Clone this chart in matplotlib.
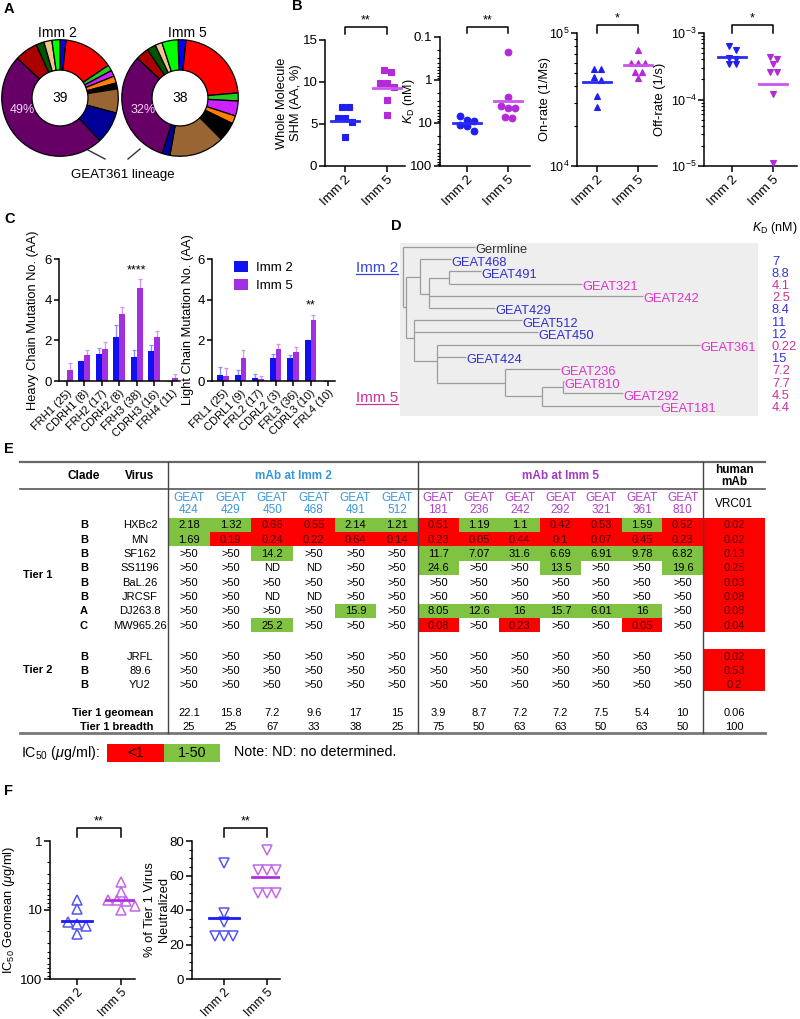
import numpy as np
import matplotlib
matplotlib.use('Agg')
import matplotlib.pyplot as plt
from matplotlib.patches import Rectangle
import matplotlib.transforms as mtrans
from matplotlib.ticker import LogLocator, NullFormatter, FixedLocator, FixedFormatter, MultipleLocator

plt.rcParams['font.family'] = ['Liberation Sans', 'DejaVu Sans']
plt.rcParams['mathtext.fontset'] = 'custom'
plt.rcParams['mathtext.rm'] = 'Liberation Sans'
plt.rcParams['mathtext.it'] = 'Liberation Sans:italic'
plt.rcParams['mathtext.bf'] = 'Liberation Sans:bold'
plt.rcParams['axes.linewidth'] = 1.1

# ------------------------------------------------------------------ data
# Panel A : lineage composition (clockwise from 12 o'clock, degrees of ring)
donut_colors = ['#0000ff', '#ff0000', '#22cc22', '#cc22ff', '#ff8000', '#000000',
                '#996633', '#000099', '#660066', '#aa0000', '#005500', '#f2c38c', '#00ff00']
imm2_share = [6, 50, 6, 6, 7, 6, 24, 32, 176, 23, 8, 8, 8]
imm5_share = [8, 79, 8, 15, 8, 19, 55, 8, 115, 13, 9, 7, 16]
imm2_total, imm5_total = '39', '38'
imm2_lineage_pct, imm5_lineage_pct = '49%', '32%'

# Panel B
groups = ['Imm 2', 'Imm 5']
shm_imm2 = [7.05, 7.05, 5.66, 5.66, 5.26, 3.47]
shm_imm5 = [11.43, 11.24, 9.92, 9.92, 9.37, 7.85, 6.05]
shm_center = [5.34, 9.3]
imm2_mabs = ['424', '429', '450', '468', '491', '512']
imm5_mabs = ['181', '236', '242', '292', '321', '361', '810']
kd_imm2 = [15, 8.4, 12, 7, 8.8, 11]
kd_imm5 = [4.4, 7.2, 2.5, 4.5, 4.1, 0.22, 7.7]
on_imm2 = [54000, 54000, 46500, 44400, 33800, 27600]
on_imm5 = [74000, 60000, 60000, 60000, 51300, 51300, 45700]
on_center = [42800, 57000]
off_imm2 = [6.3e-4, 5.6e-4, 4.2e-4, 4.1e-4, 3.4e-4, 3.4e-4]
off_imm5 = [4.3e-4, 4.1e-4, 3.45e-4, 2.6e-4, 2.55e-4, 1.2e-4, 1.1e-5]
off_center = [4.3e-4, 1.7e-4]
sig_B = ['**', '**', '*', '*']

# Panel C
heavy_regions = ['FRH1 (25)', 'CDRH1 (8)', 'FRH2 (17)', 'CDRH2 (8)', 'FRH3 (38)', 'CDRH3 (16)', 'FRH4 (11)']
heavy_imm2 = [0.0, 1.0, 1.33, 2.17, 1.17, 1.5, 0.0]
heavy_imm2_err = [0.0, 0.0, 0.27, 0.6, 0.35, 0.28, 0.0]
heavy_imm5 = [0.55, 1.27, 1.57, 3.28, 4.57, 2.14, 0.14]
heavy_imm5_err = [0.33, 0.25, 0.33, 0.38, 0.43, 0.3, 0.2]
heavy_sig = ['', '', '', '', '****', '', '']
light_regions = ['FRL1 (25)', 'CDRL1 (9)', 'FRL2 (17)', 'CDRL2 (3)', 'FRL3 (36)', 'CDRL3 (10)', 'FRL4 (10)']
light_imm2 = [0.3, 0.3, 0.15, 1.15, 1.15, 2.0, 0.0]
light_imm2_err = [0.4, 0.24, 0.2, 0.2, 0.15, 0.0, 0.0]
light_imm5 = [0.25, 1.13, 0.12, 1.57, 1.42, 3.0, 0.0]
light_imm5_err = [0.37, 0.4, 0.15, 0.23, 0.27, 0.25, 0.0]
light_sig = ['', '', '', '', '', '**', '']

# Panel D : tree (parent, child, branch length)
tree_edges = [
    ('root', 'Germline', 71.7), ('root', 'n1', 2.7),
    ('n1', 'n2', 14.0), ('n1', 'n3', 8.3),
    ('n2', 'GEAT468', 31.6), ('n2', 'n4', 9.0),
    ('n4', 'n5', 20.0), ('n4', 'GEAT242', 214.3), ('n4', 'GEAT429', 66.0),
    ('n5', 'GEAT491', 32.6), ('n5', 'GEAT321', 133.3),
    ('n3', 'GEAT512', 108.3), ('n3', 'GEAT450', 124.0), ('n3', 'n6', 23.3),
    ('n6', 'GEAT361', 262.4), ('n6', 'GEAT424', 29.0), ('n6', 'n7', 67.4),
    ('n7', 'GEAT236', 55.6), ('n7', 'n8', 37.6),
    ('n8', 'n9', 20.7), ('n8', 'GEAT181', 117.4),
    ('n9', 'GEAT810', 0.7), ('n9', 'GEAT292', 60.0),
]

# Panel E : IC50 table
tier1_viruses = ['HXBc2', 'MN', 'SF162', 'SS1196', 'BaL.26', 'JRCSF', 'DJ263.8', 'MW965.26']
tier1_clades = ['B', 'B', 'B', 'B', 'B', 'B', 'A', 'C']
tier2_viruses = ['JRFL', '89.6', 'YU2']
tier2_clades = ['B', 'B', 'B']
ic50_imm2_tier1 = [
    ['2.18', '1.32', '0.66', '0.55', '2.14', '1.21'],
    ['1.69', '0.19', '0.24', '0.22', '0.64', '0.14'],
    ['>50', '>50', '14.2', '>50', '>50', '>50'],
    ['>50', '>50', 'ND', 'ND', '>50', '>50'],
    ['>50', '>50', '>50', '>50', '>50', '>50'],
    ['>50', '>50', 'ND', 'ND', '>50', '>50'],
    ['>50', '>50', '>50', '>50', '15.9', '>50'],
    ['>50', '>50', '25.2', '>50', '>50', '>50'],
]
ic50_imm5_tier1 = [
    ['0.51', '1.19', '1.1', '0.42', '0.53', '1.59', '0.52'],
    ['0.23', '0.05', '0.44', '0.1', '0.07', '0.45', '0.23'],
    ['11.7', '7.07', '31.6', '6.69', '6.91', '9.78', '6.82'],
    ['24.6', '>50', '>50', '13.5', '>50', '>50', '19.6'],
    ['>50', '>50', '>50', '>50', '>50', '>50', '>50'],
    ['>50', '>50', '>50', '>50', '>50', '>50', '>50'],
    ['8.05', '12.6', '16', '15.7', '6.01', '16', '>50'],
    ['0.08', '>50', '0.23', '>50', '>50', '0.05', '>50'],
]
ic50_vrc01_tier1 = ['0.02', '0.02', '0.13', '0.25', '0.03', '0.08', '0.08', '0.04']
ic50_imm2_tier2 = [['>50'] * 6, ['>50'] * 6, ['>50'] * 6]
ic50_imm5_tier2 = [['>50'] * 7, ['>50'] * 7, ['>50'] * 7]
ic50_vrc01_tier2 = ['0.02', '0.53', '0.2']
geomean_imm2 = ['22.1', '15.8', '7.2', '9.6', '17', '15']
geomean_imm5 = ['3.9', '8.7', '7.2', '7.2', '7.5', '5.4', '10']
geomean_vrc01 = '0.06'
breadth_imm2 = ['25', '25', '67', '33', '38', '25']
breadth_imm5 = ['75', '50', '63', '63', '50', '63', '50']
breadth_vrc01 = '100'

# ------------------------------------------------------------------ setup
W, H = 800, 1019
fig = plt.figure(figsize=(8, 10.19), dpi=100)


def box(x0, y0, x1, y1):
    return [x0 / W, 1 - y1 / H, (x1 - x0) / W, (y1 - y0) / H]


def fy(y):
    return 1 - y / H


ov = fig.add_axes([0, 0, 1, 1])
ov.set_xlim(0, W)
ov.set_ylim(H, 0)
ov.axis('off')

BLUE = '#1f1ff0'
PURP = '#b32ad9'
BLUE_L = '#2a2af5'
PURP_L = '#cc55ee'

for lab, (x, y) in zip('ABCDEF', [(4, 9), (292, 6), (4, 219), (391, 226), (4, 449), (4, 791)]):
    ov.text(x, y, lab, fontsize=10.5, fontweight='bold', ha='left', va='center')

# ------------------------------------------------------------------ Panel A
for cx, share, start, total, pct, title, tx in [
        (60, imm2_share, 90, imm2_total, imm2_lineage_pct, 'Imm 2', 57),
        (180, imm5_share, 92, imm5_total, imm5_lineage_pct, 'Imm 5', 187)]:
    axA = fig.add_axes(box(cx - 60, 38, cx + 60, 158))
    axA.pie(share, colors=donut_colors, startangle=start, counterclock=False, radius=1,
            wedgeprops=dict(width=0.52, edgecolor='black', linewidth=0.9))
    axA.set_xlim(-1.03, 1.03)
    axA.set_ylim(-1.03, 1.03)
    axA.text(0, 0, total, ha='center', va='center', fontsize=10)
    axA.text(-0.64, -0.2, pct, ha='center', va='center', fontsize=9, color='#f2d4f2')
    ov.text(tx, 33, title, ha='center', va='center', fontsize=10)
ov.text(123, 175, 'GEAT361 lineage', ha='center', va='center', fontsize=9.5)
ov.plot([88, 105], [150, 159], color='#333333', lw=1)
ov.plot([128, 140], [159, 149], color='#333333', lw=1)


# ------------------------------------------------------------------ strip helpers
def swarm_offsets(ax, xc, values, diam_px):
    pts = ax.transData.transform(np.column_stack([np.full(len(values), float(xc)), values]))
    ypx = pts[:, 1]
    order = np.argsort(-ypx)
    rows = []
    for i in order:
        if rows and abs(ypx[rows[-1][0]] - ypx[i]) < diam_px * 0.85:
            rows[-1].append(i)
        else:
            rows.append([i])
    offs = np.zeros(len(values))
    for r in rows:
        n = len(r)
        for k, i in enumerate(r):
            offs[i] = (k - (n - 1) / 2) * diam_px
    ppu = ax.transData.transform((1, 1))[0] - ax.transData.transform((0, 1))[0]
    return offs / ppu


def strip(ax_px, tick_px, data, centers, marker, ms, yscale, ylim, yticks, yticklabels,
          ylabel, sig, bracket_px, label_x_px, filled=True, colors=(BLUE, PURP), lcolors=(BLUE_L, PURP_L),
          diam=7, minor=None, xlab_fs=9.5, ylab_fs=9.3, ytick_fs=9.5):
    x0, y0, x1, y1 = ax_px
    t0, t1 = tick_px
    ppu = t1 - t0
    ax = fig.add_axes(box(x0, y0, x1, y1))
    ax.set_xlim((x0 - t0) / ppu, (x1 - t0) / ppu)
    ax.set_yscale(yscale)
    ax.set_ylim(*ylim)
    for s in ['top', 'right']:
        ax.spines[s].set_visible(False)
    ax.yaxis.set_major_locator(FixedLocator(yticks))
    ax.yaxis.set_major_formatter(FixedFormatter(yticklabels))
    if yscale == 'log':
        ax.yaxis.set_minor_locator(LogLocator(base=10, subs=np.arange(2, 10)))
        ax.yaxis.set_minor_formatter(NullFormatter())
    elif minor:
        ax.yaxis.set_minor_locator(MultipleLocator(minor))
    else:
        ax.yaxis.set_minor_locator(FixedLocator([]))
    ax.tick_params(axis='both', which='major', length=4, width=1.1, labelsize=9.5, pad=1.5)
    ax.tick_params(axis='y', which='major', labelsize=ytick_fs)
    ax.tick_params(axis='y', which='minor', length=2, width=0.8)
    ax.set_xticks([0, 1])
    ax.set_xticklabels(groups, rotation=45, ha='right', rotation_mode='anchor', fontsize=xlab_fs)
    ax.set_ylabel(ylabel, fontsize=ylab_fs)
    ax.yaxis.set_label_coords((label_x_px - x0) / (x1 - x0), 0.5)
    for g, vals in enumerate(data):
        offs = swarm_offsets(ax, g, vals, diam)
        ax.plot(g + offs, vals, ls='none', marker=marker, ms=ms,
                mfc=colors[g] if filled else 'none', mec=colors[g], mew=0.8 if filled else 1.1,
                clip_on=False, zorder=3)
        ax.plot([g - 0.34, g + 0.34], [centers[g]] * 2, color=lcolors[g], lw=2, zorder=4)
    tr = mtrans.blended_transform_factory(ax.transData, fig.transFigure)
    ytop, ybot = bracket_px
    ax.plot([0, 0, 1, 1], [fy(ybot), fy(ytop), fy(ytop), fy(ybot)], transform=tr,
            color='black', lw=1.1, clip_on=False)
    ax.text(0.5, fy(ytop - 1), sig, transform=tr, ha='center', va='bottom', fontsize=9)
    return ax


def geomean(v):
    return float(np.exp(np.mean(np.log(v))))


# ------------------------------------------------------------------ Panel B
strip((325, 40, 405, 166), (345, 387), [shm_imm2, shm_imm5], shm_center, 's', 4.3, 'linear',
      (0, 15), [0, 5, 10, 15], ['0', '5', '10', '15'], 'Whole Molecule\nSHM (AA, %)', sig_B[0], (27, 34), 302)
strip((440, 37, 530, 166), (467, 508), [kd_imm2, kd_imm5], [geomean(kd_imm2), geomean(kd_imm5)], 'o', 4.8,
      'log', (100, 0.1), [0.1, 1, 10, 100], ['0.1', '1', '10', '100'], r'$K_{\mathrm{D}}$ (nM)', sig_B[1], (27, 33),
      417, ylab_fs=9)
strip((577, 33, 657, 166), (597, 638), [on_imm2, on_imm5], on_center, '^', 5, 'log',
      (1e4, 1e5), [1e4, 1e5], [r'$10^4$', r'$10^5$'], 'On-rate (1/Ms)', sig_B[2], (25, 33), 551, ytick_fs=9)
strip((704, 33, 797, 166), (732, 773), [off_imm2, off_imm5], off_center, 'v', 5, 'log',
      (1e-5, 1e-3), [1e-5, 1e-4, 1e-3], [r'$10^{-5}$', r'$10^{-4}$', r'$10^{-3}$'], 'Off-rate (1/s)',
      sig_B[3], (25, 33), 666, ytick_fs=9)

# ------------------------------------------------------------------ Panel C
BAR2, BAR5 = '#1010f0', '#a030e0'
ERR2, ERR5 = '#8a8aff', '#cf95f2'
for (x0, x1, t0, lab_x), regions, v2, e2, v5, e5, sig, ylab, show_leg in [
        ((59, 180, 66.7, 39), heavy_regions, heavy_imm2, heavy_imm2_err, heavy_imm5, heavy_imm5_err, heavy_sig,
         'Heavy Chain Mutation No. (AA)', False),
        ((212, 335, 223.0, 194), light_regions, light_imm2, light_imm2_err, light_imm5, light_imm5_err, light_sig,
         'Light Chain Mutation No. (AA)', True)]:
    ppu = 17.5
    ax = fig.add_axes(box(x0, 259, x1, 381))
    ax.set_xlim((x0 - t0) / ppu, (x1 - t0) / ppu)
    ax.set_ylim(0, 6)
    x = np.arange(len(regions))
    bw = 0.34
    ax.bar(x - bw / 2, v2, bw, color=BAR2, label='Imm 2', zorder=2)
    ax.bar(x + bw / 2, v5, bw, color=BAR5, label='Imm 5', zorder=2)
    ax.errorbar(x - bw / 2, v2, yerr=[np.zeros(len(v2)), e2], fmt='none', ecolor=ERR2, elinewidth=0.9,
                capsize=1.5, capthick=0.9, zorder=1)
    ax.errorbar(x + bw / 2, v5, yerr=[np.zeros(len(v5)), e5], fmt='none', ecolor=ERR5, elinewidth=0.9,
                capsize=1.5, capthick=0.9, zorder=1)
    for i, s in enumerate(sig):
        if s:
            top = max(v2[i] + e2[i], v5[i] + e5[i])
            ax.text(x[i], top + 0.45, s, ha='center', va='center', fontsize=9)
    for s in ['top', 'right']:
        ax.spines[s].set_visible(False)
    ax.set_yticks([0, 2, 4, 6])
    ax.yaxis.set_minor_locator(FixedLocator([]))
    ax.set_xticks(x)
    ax.set_xticklabels(regions, rotation=45, ha='right', rotation_mode='anchor', fontsize=8)
    ax.tick_params(axis='both', length=3.5, width=1.1, labelsize=9.5, pad=1.5)
    ax.tick_params(axis='x', labelsize=8)
    ax.set_ylabel(ylab, fontsize=9.3)
    ax.yaxis.set_label_coords((lab_x - x0) / (x1 - x0), 0.5)
    if show_leg:
        ax.legend(loc='upper left', bbox_to_anchor=(0.08, 1.08), frameon=False, fontsize=9.5,
                  handlelength=1.1, handleheight=0.9, handletextpad=0.6, labelspacing=0.35)

# ------------------------------------------------------------------ Panel D
children = {}
blen = {}
for p, c, l in tree_edges:
    children.setdefault(p, []).append(c)
    blen[c] = l
depth = {'root': 0.0}
ypos = {}
leaves = []


def walk(node):
    kids = children.get(node, [])
    for k in kids:
        depth[k] = depth[node] + blen[k]
        walk(k)
    if kids:
        ypos[node] = float(np.mean([ypos[k] for k in kids]))
    else:
        ypos[node] = float(len(leaves))
        leaves.append(node)


walk('root')
axD = fig.add_axes(box(400, 243, 758, 416))
axD.set_facecolor('#eeeeee')
axD.set_xlim(-3, 355)
axD.set_ylim(13.85, -0.33)
axD.set_xticks([])
axD.set_yticks([])
for s in axD.spines.values():
    s.set_visible(False)
TREE_C = '#9c9c9c'
for p, c, l in tree_edges:
    axD.plot([depth[p], depth[c]], [ypos[c], ypos[c]], color=TREE_C, lw=0.9, solid_capstyle='butt')
for p, kids in children.items():
    ys = [ypos[k] for k in kids]
    axD.plot([depth[p], depth[p]], [min(ys), max(ys)], color=TREE_C, lw=0.9, solid_capstyle='butt')

imm2_names = ['GEAT' + m for m in imm2_mabs]
imm5_names = ['GEAT' + m for m in imm5_mabs]
kd_lookup = dict(zip(imm2_names, kd_imm2))
kd_lookup.update(zip(imm5_names, kd_imm5))
D_BLUE, D_MAG, D_KD5 = '#2f2fd0', '#dd33cc', '#cc3399'
trKD = mtrans.blended_transform_factory(ov.transData, axD.transData)
for leaf in leaves:
    col = D_BLUE if leaf in imm2_names else (D_MAG if leaf in imm5_names else '#333333')
    axD.text(depth[leaf] + 0.5, ypos[leaf] + 0.27, leaf, ha='left', va='center', fontsize=9.3, color=col)
    if leaf in kd_lookup:
        kcol = '#3333dd' if leaf in imm2_names else D_KD5
        ov.text(772, ypos[leaf] + 0.2, '{:g}'.format(kd_lookup[leaf]), transform=trKD, ha='left',
                va='center', fontsize=9.3, color=kcol)
ov.text(797, 228, r'$K_{\mathrm{D}}$ (nM)', ha='right', va='center', fontsize=9)

d_lab = []
for txt, y, col in [('Imm 2', 268, '#3344dd'), ('Imm 5', 398, '#cc3399')]:
    d_lab.append((ov.text(398, y, txt, ha='right', va='center', fontsize=11, color=col), col))

# ------------------------------------------------------------------ Panel E
RED, GREEN = '#ff0000', '#80c242'
TBL_FS = 8


def ic50_color(s):
    try:
        v = float(s)
    except ValueError:
        return None
    if v < 1:
        return RED
    if v <= 50:
        return GREEN
    return None


c2_w, c5_w = 250 / 6, 285 / 7
c2_x = 168 + c2_w * (np.arange(len(imm2_mabs)) + 0.5)
c5_x = 418 + c5_w * (np.arange(len(imm5_mabs)) + 0.5)
vrc_x, vrc_w = 734, 62


def cell(xc, w, yc, h, s):
    c = ic50_color(s)
    if c:
        ov.add_patch(Rectangle((xc - w / 2, yc - h / 2), w, h, facecolor=c, edgecolor='none', zorder=1))
    ov.text(xc, yc + 0.5, s, ha='center', va='center', fontsize=TBL_FS,
            color='#4a0000' if c == RED else 'black', zorder=2)


# header
ov.plot([20, 765], [462, 462], color='#666666', lw=1.6)
ov.plot([20, 765], [489, 489], color='#555555', lw=1.2)
ov.plot([20, 765], [733, 733], color='#777777', lw=2.0)
for xv in [168, 418, 703]:
    ov.plot([xv, xv], [462, 733], color='#444444', lw=1.0)
ov.text(84, 476, 'Clade', ha='center', va='center', fontsize=8.5, fontweight='bold')
ov.text(140, 476, 'Virus', ha='center', va='center', fontsize=8.5, fontweight='bold')
ov.text(293, 476, 'mAb at Imm 2', ha='center', va='center', fontsize=8.5, fontweight='bold', color='#3a96dc')
ov.text(560, 476, 'mAb at Imm 5', ha='center', va='center', fontsize=8.5, fontweight='bold', color='#a23bc4')
ov.text(734, 476, 'human\nmAb', ha='center', va='center', fontsize=8.5, fontweight='bold', linespacing=1.05)
for xc, m in zip(c2_x, imm2_mabs):
    ov.text(xc, 504, 'GEAT\n' + m, ha='center', va='center', fontsize=8.5, color='#3a96dc', linespacing=1.0)
for xc, m in zip(c5_x, imm5_mabs):
    ov.text(xc, 504, 'GEAT\n' + m, ha='center', va='center', fontsize=8.5, color='#b040c8', linespacing=1.0)
ov.text(vrc_x, 504, 'VRC01', ha='center', va='center', fontsize=8.5)

rh = 14.3
tier1_y = 525 + rh * np.arange(len(tier1_viruses))
for i, yc in enumerate(tier1_y):
    ov.text(84, yc + 0.5, tier1_clades[i], ha='center', va='center', fontsize=TBL_FS, fontweight='bold')
    ov.text(140, yc + 0.5, tier1_viruses[i], ha='center', va='center', fontsize=TBL_FS)
    for xc, s in zip(c2_x, ic50_imm2_tier1[i]):
        cell(xc, c2_w, yc, rh, s)
    for xc, s in zip(c5_x, ic50_imm5_tier1[i]):
        cell(xc, c5_w, yc, rh, s)
    cell(vrc_x, vrc_w, yc, rh, ic50_vrc01_tier1[i])
ov.text(38, float(np.mean(tier1_y)), 'Tier 1', ha='center', va='center', fontsize=TBL_FS, fontweight='bold')

tier2_y = 656 + 14.0 * np.arange(len(tier2_viruses))
for i, yc in enumerate(tier2_y):
    ov.text(84, yc + 0.5, tier2_clades[i], ha='center', va='center', fontsize=TBL_FS, fontweight='bold')
    ov.text(140, yc + 0.5, tier2_viruses[i], ha='center', va='center', fontsize=TBL_FS)
    for xc, s in zip(c2_x, ic50_imm2_tier2[i]):
        cell(xc, c2_w, yc, 14.0, s)
    for xc, s in zip(c5_x, ic50_imm5_tier2[i]):
        cell(xc, c5_w, yc, 14.0, s)
    cell(vrc_x, vrc_w, yc, 14.0, ic50_vrc01_tier2[i])
ov.text(38, float(np.mean(tier2_y)), 'Tier 2', ha='center', va='center', fontsize=TBL_FS, fontweight='bold')

for yc, lab, r2, r5, rv in [(713, 'Tier 1 geomean', geomean_imm2, geomean_imm5, geomean_vrc01),
                            (727, 'Tier 1 breadth', breadth_imm2, breadth_imm5, breadth_vrc01)]:
    ov.text(153, yc, lab, ha='right', va='center', fontsize=TBL_FS, fontweight='bold')
    for xc, s in zip(c2_x, r2):
        ov.text(xc, yc, s, ha='center', va='center', fontsize=TBL_FS)
    for xc, s in zip(c5_x, r5):
        ov.text(xc, yc, s, ha='center', va='center', fontsize=TBL_FS)
    ov.text(vrc_x, yc, rv, ha='center', va='center', fontsize=TBL_FS)

# legend of table
ov.text(21, 753, r'IC$_{50}$ ($\mu$g/ml):', ha='left', va='center', fontsize=10.3)
ov.add_patch(Rectangle((107, 743.5), 57, 18.5, facecolor=RED, edgecolor='none'))
ov.add_patch(Rectangle((164, 743.5), 56, 18.5, facecolor=GREEN, edgecolor='none'))
ov.text(135.5, 753, '<1', ha='center', va='center', fontsize=10.3)
ov.text(192, 753, '1-50', ha='center', va='center', fontsize=10.3)
ov.text(234, 752, 'Note: ND: no determined.', ha='left', va='center', fontsize=10.3)

# ------------------------------------------------------------------ Panel F
f_geo = [[float(s) for s in geomean_imm2], [float(s) for s in geomean_imm5]]
f_brd = [[float(s) for s in breadth_imm2], [float(s) for s in breadth_imm5]]
FC = ('#5555f2', '#c466ea')
FL = ('#1a1aff', '#b030e0')
strip((50, 841, 135, 979), (77, 121), f_geo, [np.mean(v) for v in f_geo], '^', 7.5, 'log',
      (100, 1), [1, 10, 100], ['1', '10', '100'], r'IC$_{50}$ Geomean ($\mu$g/ml)', '**', (828, 837), 17,
      filled=False, colors=FC, lcolors=FL, diam=9, xlab_fs=8.8)
strip((192, 841, 280, 979), (224, 267), f_brd, [np.mean(v) for v in f_brd], 'v', 7.5, 'linear',
      (0, 80), [0, 20, 40, 60, 80], ['0', '20', '40', '60', '80'], '% of Tier 1 Virus\nNeutralized', '**',
      (828, 837), 170, filled=False, colors=FC, lcolors=FL, diam=9, minor=5, xlab_fs=8.8)

# underline labels of panel D
fig.canvas.draw()
r = fig.canvas.get_renderer()
inv = ov.transData.inverted()
for t, col in d_lab:
    bb = t.get_window_extent(r)
    (xa, ya), (xb, yb) = inv.transform([[bb.x0, bb.y0], [bb.x1, bb.y1]])
    ov.plot([xa, xb], [max(ya, yb) - 1, max(ya, yb) - 1], color=col, lw=0.9)

fig.savefig('out.png', dpi=100)
